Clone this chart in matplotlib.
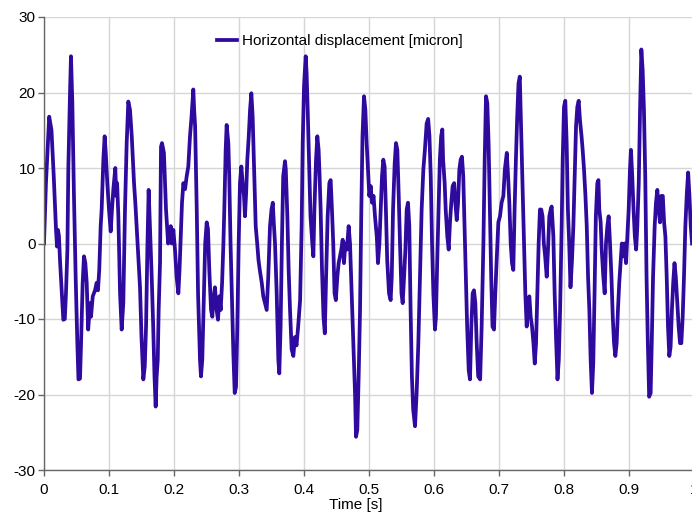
import numpy as np
import matplotlib
matplotlib.use("Agg")
import matplotlib.pyplot as plt

plt.rcParams['font.family'] = ['Liberation Sans', 'DejaVu Sans']
plt.rcParams['axes.unicode_minus'] = False

# time [s] and horizontal displacement [micron]
time_s = [
    0, 0.003, 0.008, 0.0115, 0.015, 0.0185, 0.020, 0.0215, 0.023, 0.0246,
    0.0297, 0.032, 0.0338, 0.036, 0.0374, 0.040, 0.0415, 0.0436, 0.046, 0.0487,
    0.0513, 0.053, 0.0554, 0.057, 0.0595, 0.0615, 0.0636, 0.0657, 0.068, 0.0708,
    0.0723, 0.075, 0.0785, 0.081, 0.083, 0.085, 0.0872, 0.0887, 0.0913, 0.0933,
    0.095, 0.0974, 0.100, 0.1026, 0.1046, 0.1067, 0.1097, 0.1112, 0.1125, 0.1144,
    0.117, 0.1195, 0.122, 0.1246, 0.1272, 0.1297, 0.1323, 0.135, 0.1385, 0.1405,
    0.144, 0.1477, 0.150, 0.1528, 0.155, 0.157, 0.159, 0.161, 0.163, 0.1657,
    0.168, 0.170, 0.1718, 0.1733, 0.175, 0.1764, 0.1785, 0.180, 0.1815, 0.1845,
    0.1877, 0.191, 0.195, 0.1965, 0.199, 0.2015, 0.204, 0.2067, 0.2085, 0.210,
    0.2123, 0.2144, 0.217, 0.2195, 0.222, 0.2246, 0.227, 0.2297, 0.231, 0.2325,
    0.235, 0.237, 0.240, 0.2415, 0.2435, 0.246, 0.248, 0.2503, 0.2523, 0.2543,
    0.257, 0.259, 0.2605, 0.263, 0.2656, 0.2677, 0.2697, 0.2718, 0.274, 0.276,
    0.2774, 0.2795, 0.281, 0.2836, 0.285, 0.287, 0.289, 0.2913, 0.2934, 0.2954,
    0.2974, 0.2995, 0.3015, 0.3036, 0.3056, 0.3077, 0.3092, 0.311, 0.3128, 0.315,
    0.317, 0.319, 0.321, 0.3236, 0.3257, 0.328, 0.330, 0.332, 0.335, 0.3374,
    0.340, 0.3426, 0.345, 0.3477, 0.350, 0.352, 0.3535, 0.3554, 0.358, 0.3605,
    0.362, 0.364, 0.366, 0.368, 0.3708, 0.372, 0.3744, 0.3764, 0.3785, 0.381,
    0.3836, 0.386, 0.3885, 0.391, 0.394, 0.3964, 0.398, 0.400, 0.4026, 0.404,
    0.4057, 0.4077, 0.410, 0.4128, 0.4144, 0.416, 0.4185, 0.4205, 0.4225, 0.424,
    0.4256, 0.4277, 0.430, 0.432, 0.434, 0.4364, 0.439, 0.441, 0.443, 0.445,
    0.447, 0.449, 0.4513, 0.4533, 0.4554, 0.4574, 0.4595, 0.4615, 0.4636, 0.466,
    0.4687, 0.4708, 0.4733, 0.4759, 0.4785, 0.480, 0.482, 0.4841, 0.4862, 0.4882,
    0.490, 0.4923, 0.4944, 0.4964, 0.4985, 0.5005, 0.5026, 0.5046, 0.507, 0.5092,
    0.512, 0.5138, 0.516, 0.518, 0.520, 0.522, 0.524, 0.526, 0.528, 0.5308,
    0.5333, 0.535, 0.537, 0.5395, 0.5415, 0.5436, 0.5456, 0.5477, 0.550, 0.5518,
    0.554, 0.556, 0.558, 0.560, 0.562, 0.564, 0.566, 0.568, 0.5708, 0.5733,
    0.5759, 0.5785, 0.581, 0.5836, 0.586, 0.5887, 0.591, 0.593, 0.595, 0.597,
    0.599, 0.6015, 0.603, 0.605, 0.6072, 0.609, 0.611, 0.6128, 0.614, 0.6164,
    0.618, 0.6205, 0.6226, 0.6246, 0.6266, 0.6287, 0.631, 0.6328, 0.635, 0.637,
    0.639, 0.641, 0.643, 0.645, 0.647, 0.6492, 0.651, 0.6534, 0.6554, 0.6574,
    0.6595, 0.6615, 0.6636, 0.6657, 0.668, 0.671, 0.6733, 0.676, 0.678, 0.680,
    0.682, 0.684, 0.686, 0.688, 0.690, 0.6923, 0.6943, 0.6964, 0.699, 0.7015,
    0.704, 0.7067, 0.709, 0.712, 0.714, 0.7159, 0.718, 0.720, 0.722, 0.724,
    0.726, 0.728, 0.730, 0.732, 0.734, 0.7365, 0.7385, 0.7405, 0.7426, 0.7446,
    0.7467, 0.7487, 0.7508, 0.753, 0.755, 0.757, 0.759, 0.761, 0.763, 0.765,
    0.767, 0.769, 0.771, 0.7734, 0.7754, 0.7774, 0.7795, 0.781, 0.7836, 0.7856,
    0.7877, 0.790, 0.792, 0.794, 0.7964, 0.798, 0.800, 0.802, 0.8041, 0.806,
    0.808, 0.810, 0.8123, 0.8144, 0.8164, 0.8185, 0.8205, 0.8226, 0.8246, 0.827,
    0.8287, 0.8308, 0.833, 0.835, 0.837, 0.839, 0.841, 0.843, 0.845, 0.847,
    0.849, 0.8513, 0.853, 0.8543, 0.8564, 0.858, 0.8605, 0.8626, 0.8646, 0.8667,
    0.8687, 0.8708, 0.873, 0.875, 0.877, 0.879, 0.881, 0.883, 0.885, 0.887,
    0.889, 0.891, 0.8934, 0.8954, 0.8974, 0.8995, 0.9015, 0.903, 0.905, 0.907,
    0.909, 0.911, 0.9128, 0.915, 0.917, 0.919, 0.921, 0.923, 0.925, 0.927,
    0.929, 0.931, 0.9333, 0.935, 0.937, 0.9395, 0.9415, 0.9436, 0.9456, 0.9477,
    0.9497, 0.952, 0.954, 0.956, 0.958, 0.960, 0.962, 0.964, 0.966, 0.968,
    0.970, 0.972, 0.9744, 0.9764, 0.9785, 0.9805, 0.9826, 0.9846, 0.9867, 0.989,
    0.991, 0.993, 0.995, 0.997,
]

disp_micron = [
    0, 8, 16.8, 15.0, 8.9, 1.8, -0.4, 1.8, 1.0, -2.2,
    -10.1, -10.0, -6.6, -0.8, 9.8, 19.9, 24.8, 18.6, 6.7, -4.4,
    -13.2, -18.0, -17.9, -13.2, -5.2, -1.7, -2.6, -5.2, -11.4, -7.9,
    -9.7, -7.0, -6.2, -5.2, -6.2, -3.5, 2.3, 4.5, 11.1, 14.2,
    12.0, 8.0, 4.5, 1.6, 4.5, 7.2, 10.0, 6.3, 8.0, 3.6,
    -6.6, -11.4, -7.9, 4.5, 13.3, 18.8, 17.7, 14.2, 8.0, 5.4,
    0.0, -5.8, -12.4, -18.0, -16.3, -11.0, -0.8, 7.1, 2.3, -4.4,
    -11.0, -17.6, -21.6, -17.6, -15.4, -8.8, -2.6, 12.8, 13.3, 12.0,
    4.5, 0.0, 2.3, 0.0, 1.8, -0.8, -4.4, -6.6, -3.5, 0.0,
    5.4, 8.0, 7.2, 8.9, 10.2, 14.2, 16.8, 20.4, 17.7, 15.5,
    4.5, -6.6, -15.4, -17.6, -15.4, -6.6, 0.0, 2.8, 1.9, -3.5,
    -8.8, -9.7, -7.5, -5.8, -8.8, -10.1, -7.0, -8.8, -5.2, 0.0,
    4.5, 12.4, 15.7, 13.3, 8.9, 0.0, -6.6, -14.5, -19.8, -19.0,
    -11.0, 0.0, 8.0, 10.2, 8.0, 6.3, 3.6, 6.7, 11.1, 14.2,
    17.7, 19.9, 16.8, 8.9, 2.3, 0.0, -2.2, -3.5, -5.2, -7.0,
    -7.9, -8.8, -4.4, 2.3, 4.5, 5.4, 2.8, 0.0, -6.6, -15.4,
    -17.2, -11.0, 0.0, 8.9, 10.9, 9.8, 3.6, -3.5, -8.8, -14.0,
    -14.9, -12.4, -13.5, -11.0, -7.5, 2.3, 13.3, 20.8, 24.8, 22.6,
    17.7, 11.1, 3.6, 0.0, -1.7, 4.5, 11.1, 14.2, 12.4, 8.9,
    4.5, -3.5, -9.7, -11.9, -4.4, 3.6, 8.0, 8.4, 4.5, 0.0,
    -6.6, -7.5, -4.4, -2.6, -1.7, -0.8, 0.5, -2.6, 0.0, -0.8,
    2.3, 0.0, -6.6, -13.2, -19.8, -25.6, -24.7, -17.6, -8.8, 4.5,
    14.2, 19.5, 17.7, 13.3, 9.8, 6.3, 7.6, 5.4, 6.3, 3.6,
    0.9, -2.6, 0.0, 4.5, 8.9, 11.1, 10.2, 4.5, -2.2, -6.6,
    -7.5, -4.4, 4.5, 10.6, 13.3, 12.4, 6.7, 0.0, -6.6, -7.9,
    -4.4, -0.8, 4.5, 5.4, 2.3, -8.8, -17.6, -22.0, -24.2, -19.8,
    -13.2, -4.4, 4.5, 9.8, 12.4, 15.9, 16.5, 14.2, 8.9, 0.0,
    -6.6, -11.4, -9.7, -2.2, 5.4, 11.1, 14.2, 15.1, 11.1, 8.0,
    4.5, 0.9, -0.8, 2.8, 5.4, 7.6, 8.0, 5.4, 3.1, 5.4,
    9.8, 11.1, 11.5, 8.9, 2.3, -4.4, -11.0, -16.8, -18.0, -11.0,
    -6.6, -6.2, -7.9, -13.2, -17.6, -18.0, -11.0, 0.0, 11.1, 19.5,
    18.6, 13.3, 4.5, -4.4, -11.0, -11.4, -6.6, -2.2, 2.8, 3.6,
    5.4, 6.3, 9.8, 12.0, 8.9, 5.4, 0.0, -2.6, -3.5, 4.5,
    11.1, 16.8, 21.2, 22.1, 15.5, 6.7, 0.0, -6.6, -11.0, -7.9,
    -7.0, -9.7, -11.0, -13.2, -15.9, -13.2, -6.6, 0.0, 4.5, 4.5,
    3.6, 0.0, -1.7, -4.4, -0.8, 3.6, 4.5, 4.9, 1.0, -6.6,
    -12.4, -18.0, -15.4, -8.8, 2.3, 11.1, 18.1, 18.9, 13.3, 4.5,
    0.0, -5.8, -2.2, 2.3, 8.9, 15.5, 18.1, 18.9, 16.3, 14.2,
    12.4, 9.8, 6.3, 2.3, -4.4, -8.8, -15.4, -19.8, -15.9, -6.6,
    3.6, 8.0, 8.4, 4.5, 2.8, -0.8, -4.4, -6.6, 0.0, 2.3,
    3.6, 0.0, -4.4, -9.7, -13.2, -14.9, -13.2, -8.8, -5.2, -2.6,
    0.0, -1.7, 0.0, -2.6, 0.9, 4.5, 9.8, 12.4, 8.9, 4.5,
    0.9, -0.8, 2.3, 8.0, 17.7, 25.7, 23.0, 17.7, 8.9, -4.4,
    -13.2, -20.3, -19.8, -13.2, -4.4, 2.3, 5.4, 7.1, 4.5, 2.8,
    6.3, 6.3, 2.8, 0.9, -4.4, -11.0, -14.9, -13.7, -8.8, -5.2,
    -2.6, -4.4, -7.9, -11.0, -13.2, -13.2, -9.7, -4.4, 2.3, 6.7,
    9.4, 6.3, 2.3, 0.0,
]

x_ticks = [0, 0.1, 0.2, 0.3, 0.4, 0.5, 0.6, 0.7, 0.8, 0.9, 1]
x_ticklabels = ['0', '0.1', '0.2', '0.3', '0.4', '0.5', '0.6', '0.7', '0.8', '0.9', '1']
y_ticks = [-30, -20, -10, 0, 10, 20, 30]

W, H = 692, 517
fig = plt.figure(figsize=(W / 100, H / 100), dpi=100)
# axes spans a bit past the right edge of the figure, like the reference
ax = fig.add_axes([44 / W, 47 / H, 650 / W, 453 / H])

ax.plot(time_s, disp_micron, color='#2e0a9e', lw=2.7,
        solid_joinstyle='round', label='Horizontal displacement [micron]')

ax.set_xlim(0, 1)
ax.set_ylim(-30, 30)
ax.set_xticks(x_ticks)
ax.set_xticklabels(x_ticklabels)
ax.set_yticks(y_ticks)

ax.grid(True, color='#d6d6d6', lw=1)
ax.set_axisbelow(True)
for side in ['top', 'right']:
    ax.spines[side].set_visible(False)
for side in ['left', 'bottom']:
    ax.spines[side].set_color('#666666')
    ax.spines[side].set_linewidth(1)

ax.tick_params(axis='both', direction='out', length=4, width=1,
               color='#666666', labelsize=11, labelcolor='black')
ax.tick_params(axis='x', pad=5)
ax.tick_params(axis='y', pad=2)

ax.set_xlabel('Time [s]', fontsize=11)
ax.xaxis.set_label_coords(0.48, -0.062)

ax.legend(loc='center', bbox_to_anchor=(0.455, 0.947), frameon=False,
          fontsize=11, handlelength=1.3, handletextpad=0.35)

fig.savefig('out.png', dpi=100)
plt.close(fig)
